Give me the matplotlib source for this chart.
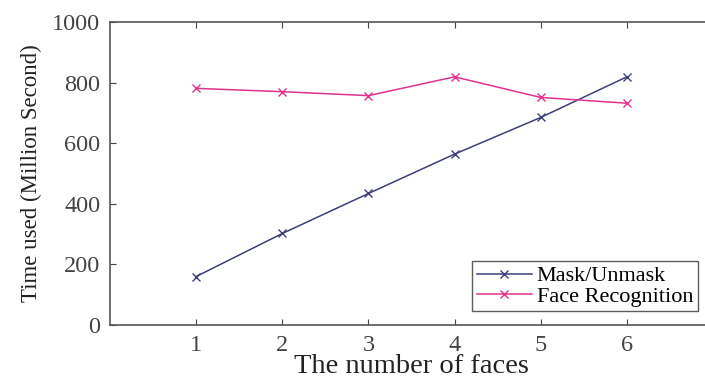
import numpy as np
import matplotlib.pyplot as plt

plt.rcParams['font.family'] = 'Liberation Serif'

faces = [1, 2, 3, 4, 5, 6]
mask_time = [160, 302, 434, 564, 685, 819]
recog_time = [781, 770, 757, 819, 751, 732]

fig = plt.figure(figsize=(7.05, 3.8), dpi=100)
ax = fig.add_axes([110 / 705, 55 / 380, 603 / 705, 303 / 380])

ax.plot(faces, mask_time, color='#3c3f7a', marker='x', markersize=5.5,
        linewidth=1.1, label='Mask/Unmask')
ax.plot(faces, recog_time, color='#e0338f', marker='x', markersize=5.5,
        linewidth=1.1, label='Face Recognition')

ax.set_xlim(0, 7)
ax.set_ylim(0, 1000)
ax.set_xticks(faces)
ax.set_yticks(np.arange(0, 1001, 200))
ax.tick_params(direction='in', top=True, right=True, labelsize=17.5,
               colors='#444444', length=4, pad=7)
for s in ax.spines.values():
    s.set_color('#555555')
    s.set_linewidth(1.2)

ax.set_xlabel('The number of faces', fontsize=20.5, color='#222222', labelpad=-1)
ax.set_ylabel('Time used (Million Second)', fontsize=16.5, color='#222222', labelpad=7)

leg = ax.legend(loc='lower right', bbox_to_anchor=(592 / 603, 0.03), fontsize=16,
                frameon=True, fancybox=False, edgecolor='#333333',
                borderpad=0.2, handlelength=2.5, handletextpad=0.2,
                labelspacing=0.0, borderaxespad=0.2)
leg.get_frame().set_linewidth(1.0)

fig.savefig('out.png', dpi=100)
